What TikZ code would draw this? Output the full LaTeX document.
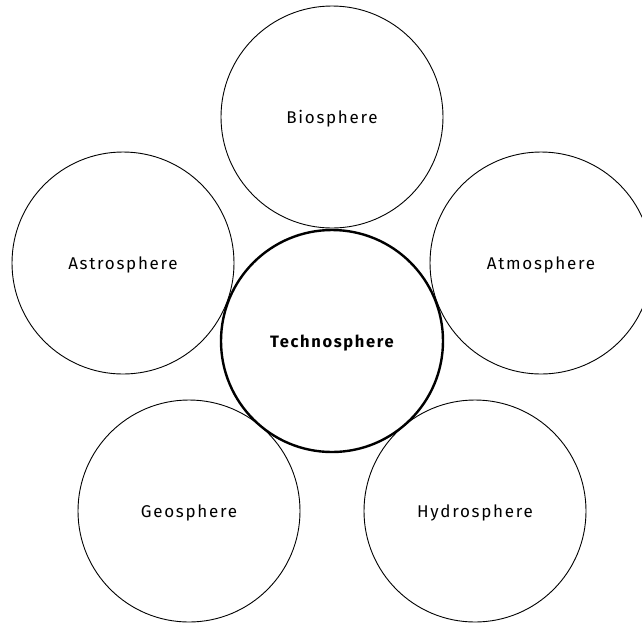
\documentclass[tikz,border=0pt]{standalone}
\usepackage{fontspec}
\setmainfont{Fira Sans}[LetterSpace=10]
\begin{document}
\begin{tikzpicture}[x=1pt,y=-1pt,
  sphere/.style={circle, draw=black, line width=0.9pt, fill=white, minimum size=222pt, inner sep=0pt, text depth=0pt, font=\fontsize{17}{19}\selectfont},
  core/.style={sphere, line width=2.4pt, minimum size=222pt, font=\bfseries\fontsize{16.5}{19}\selectfont}]
\useasboundingbox (0,0) rectangle (642,622);
\begin{scope}
\clip (0,0) rectangle (642,622);
\node[sphere] (bio)   at (332,117) {Biosphere};
\node[sphere] (astro) at (123,263) {Astrosphere};
\node[sphere] (atmo)  at (541,263) {Atmosphere};
\node[sphere] (geo)   at (189,511) {Geosphere};
\node[sphere] (hydro) at (475,511) {Hydrosphere};
\node[core]   (tech)  at (332,341) {Technosphere};
\end{scope}
\end{tikzpicture}
\end{document}
